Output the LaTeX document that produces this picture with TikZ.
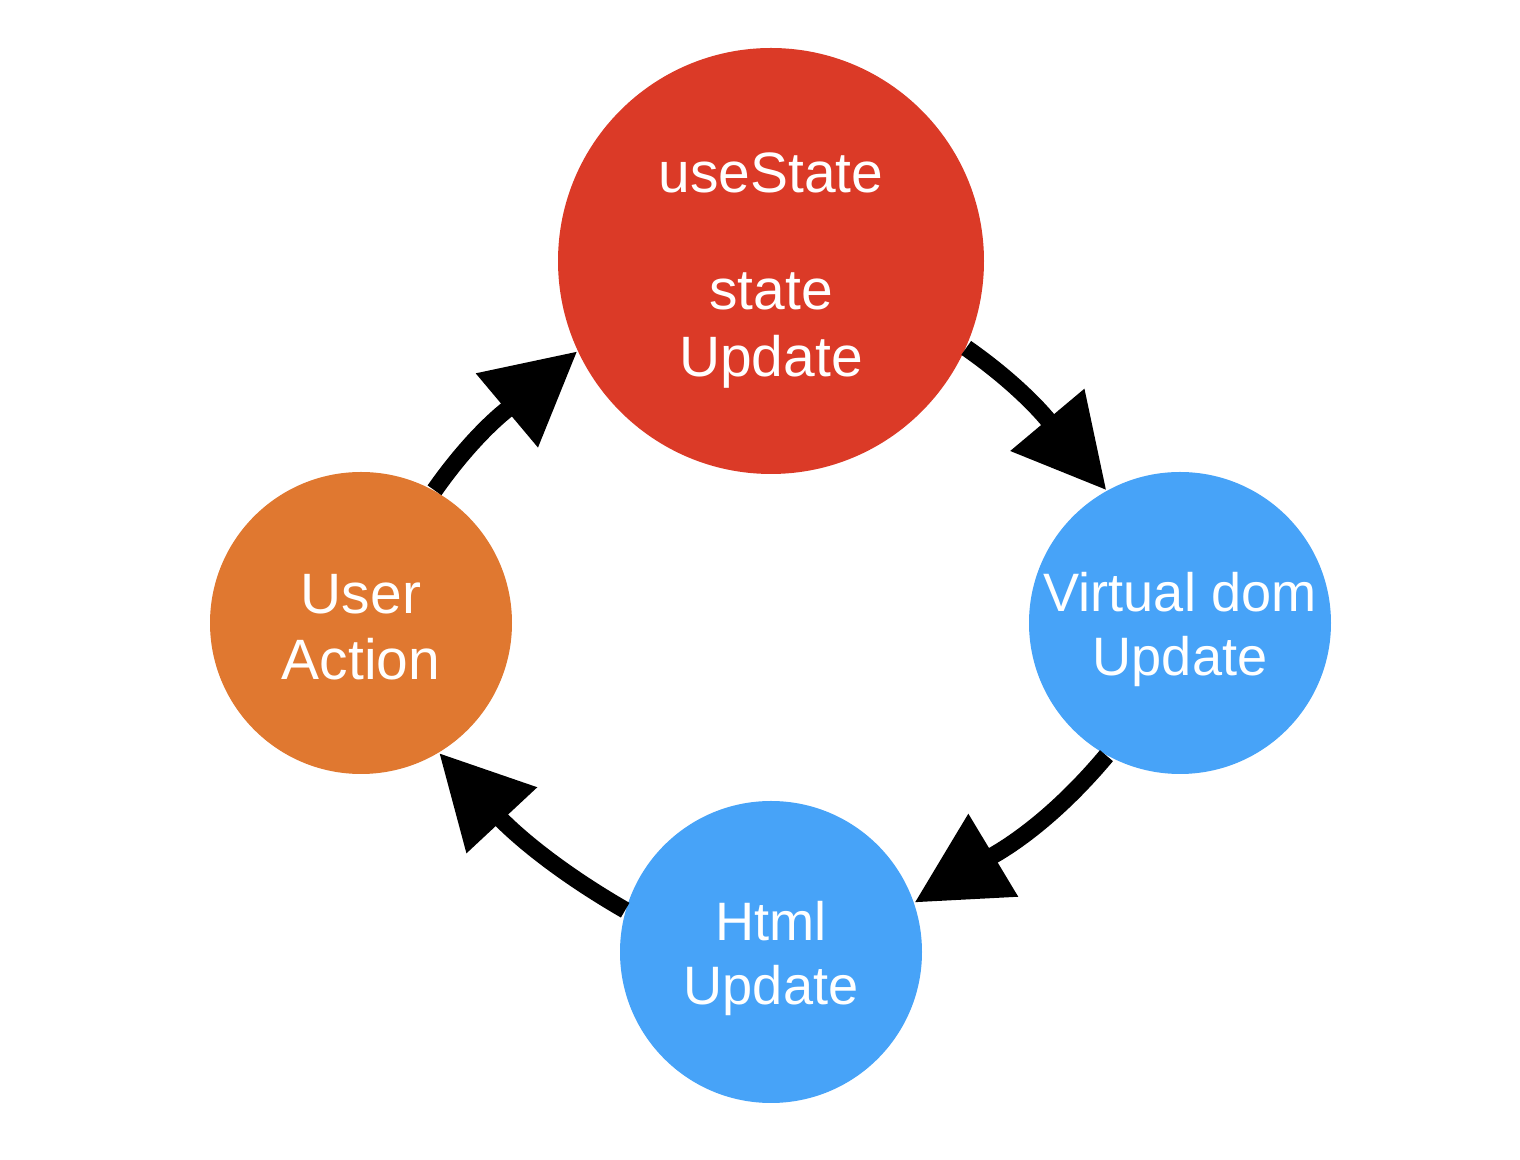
\documentclass[tikz,border=0pt]{standalone}
\usepackage{fontspec}
\setmainfont{Liberation Sans}
\usetikzlibrary{arrows.meta}
\definecolor{cred}{HTML}{DB3A27}
\definecolor{corange}{HTML}{E07830}
\definecolor{cblue}{HTML}{47A3F8}
\tikzset{
  bubble/.style={circle, inner sep=0pt, minimum size=3.02cm},
  lbl/.style={inner sep=0pt, text=white, align=center, yshift=-0.065cm,
    font=\fontsize{15.4pt}{18.2pt}\selectfont},
  biglbl/.style={lbl, font=\fontsize{16.2pt}{18.8pt}\selectfont},
  flow/.style={line width=0.17cm, -{Triangle[length=0.92cm, width=0.92cm]}, black}
}
\begin{document}
\begin{tikzpicture}
\useasboundingbox (0,0) rectangle (15.2,11.6);
\node[bubble, fill=cred, minimum size=4.26cm] (st) at (7.71,8.99) {};
\node[bubble, fill=corange] (ua) at (3.61,5.37) {};
\node[bubble, fill=cblue] (vd) at (11.80,5.37) {};
\node[bubble, fill=cblue] (ht) at (7.71,2.08) {};
\node[biglbl, yshift=-0.03cm] (stt) at (st) {useState\\[0.51cm]state\\Update};
\node[biglbl, yshift=0.02cm] (uat) at (ua) {User\\Action};
\node[lbl] (vdt) at (vd) {Virtual dom\\Update};
\node[lbl] (htt) at (ht) {Html\\Update};
\draw[flow] (ua.61) to[out=55,in=220] (st.205);
\draw[flow] (st.336) to[out=-35,in=130] (vd.119);
\draw[flow] (vd.241) to[out=230,in=31] (ht.19);
\draw[flow] (ht.164) to[out=150,in=313] (ua.-59);
\end{tikzpicture}
\end{document}
